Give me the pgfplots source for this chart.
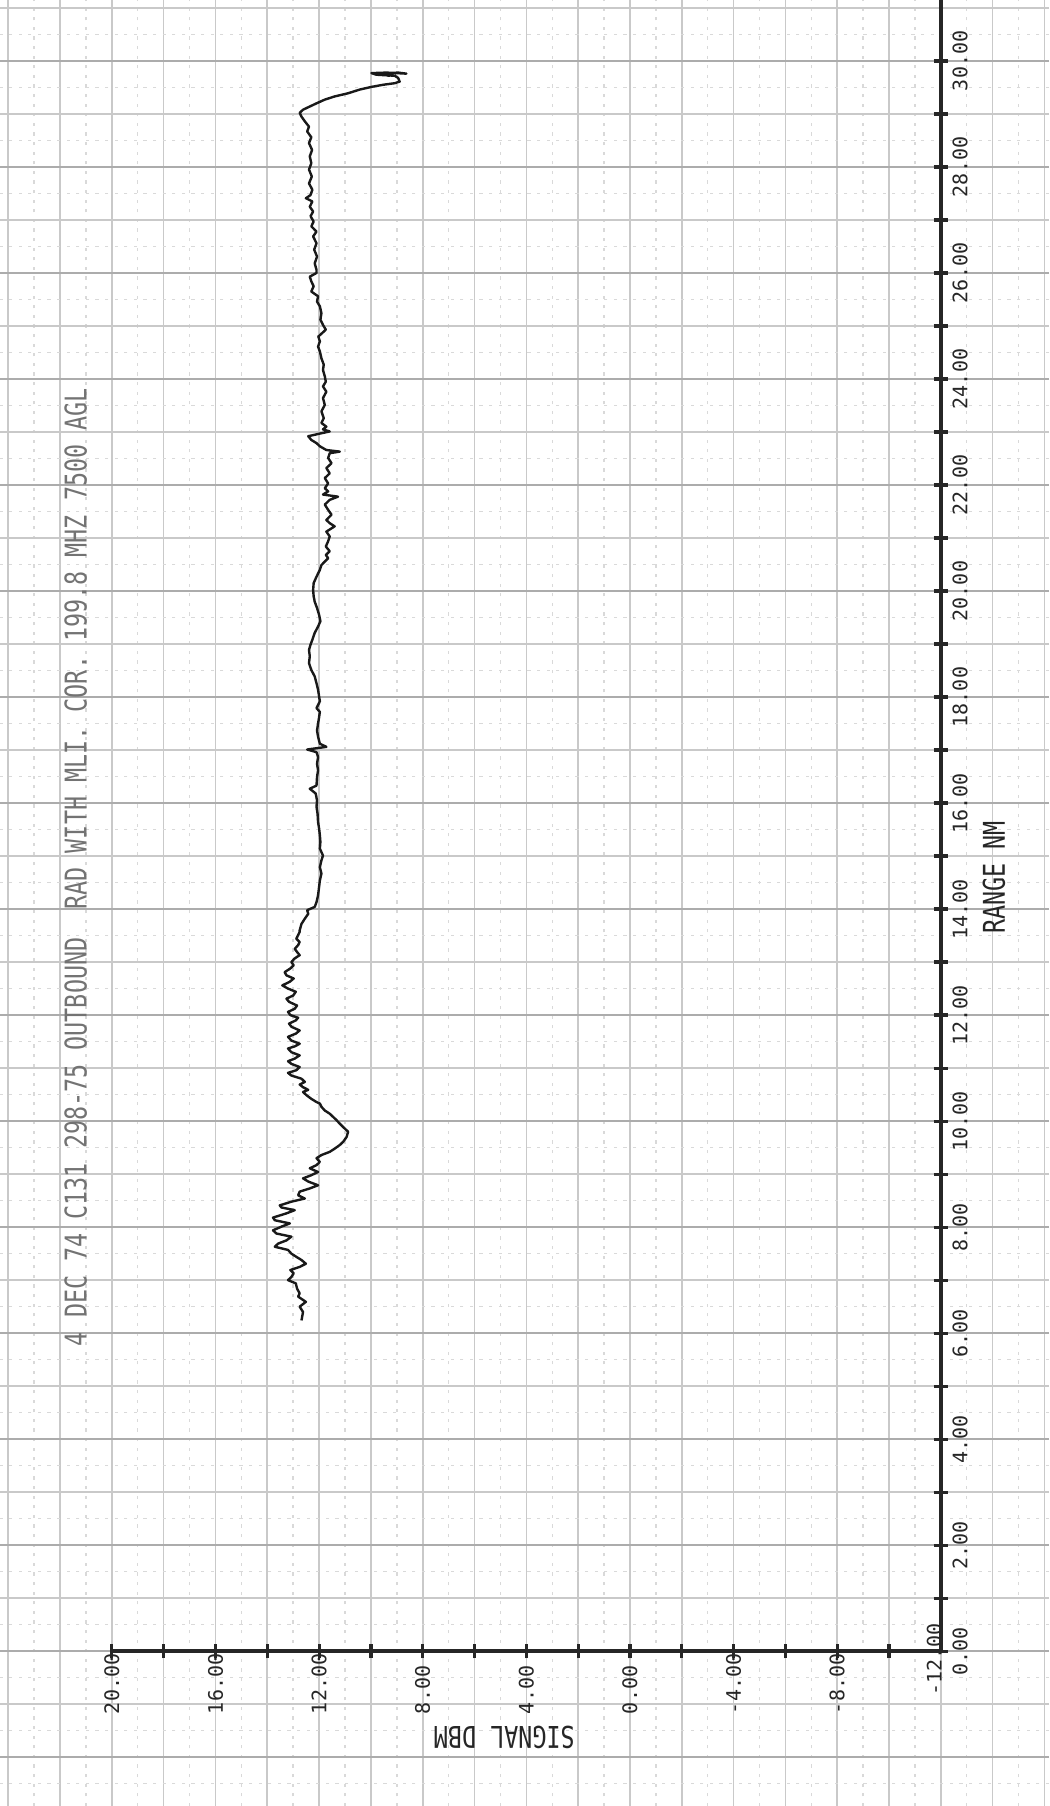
\documentclass[border=0pt]{standalone}
\usepackage{fontspec}
\usepackage{pgfplots}
\pgfplotsset{compat=1.18}
\newfontfamily\plotfont{DejaVu Sans Mono}
\newcommand\tickf{\plotfont\fontsize{5}{6}\selectfont}
\newcommand\titlef{\plotfont\fontsize{7.5}{9}\selectfont}
\begin{document}
\begin{tikzpicture}
\begin{axis}[
  scale only axis, width=262.25pt, height=451.5pt,
  x dir=reverse, xmin=-16.18, xmax=24.32, ymin=-2.92, ymax=31.15,
  axis line style={draw=none},
  xtick={-16,-14,...,24}, ytick={-2,-1,...,31},
  minor xtick={-15,-13,...,23}, minor ytick={-2.5,-1.5,...,30.5},
  xticklabels={}, yticklabels={},
  major tick length=0pt, minor tick length=0pt,
  grid=both,
  major grid style={gray!42, line width=0.4pt},
  minor grid style={gray!30, line width=0.35pt, dash pattern=on 0.8pt off 1.6pt},
  extra y ticks={-2,0,...,30},
  extra y tick labels={},
  extra y tick style={grid=major, major grid style={gray!65, line width=0.5pt}},
]
\draw[line width=0.9pt, black!85] (axis cs:20,0) -- (axis cs:-12,0);
\draw[line width=0.9pt, black!85] (axis cs:-12,0) -- (axis cs:-12,31.15);
\pgfplotsinvokeforeach{0,...,30}{\draw[line width=0.8pt, black!85] ([xshift=-1.8pt]axis cs:-12,#1) -- ([xshift=1.8pt]axis cs:-12,#1);}
\pgfplotsinvokeforeach{20,18,...,-10}{\draw[line width=0.8pt, black!85] ([yshift=-1.8pt]axis cs:#1,0) -- ([yshift=1.8pt]axis cs:#1,0);}
\pgfplotsinvokeforeach{0,2,...,30}{\node[rotate=90, inner sep=0, font=\tickf, black!85] at (axis cs:-12.75,#1) {#1.00};}
\pgfplotsinvokeforeach{20,16,...,-8}{\node[rotate=90, anchor=west, inner sep=0, font=\tickf, black!85] at (axis cs:#1,-1.2) {#1.00};}
\node[rotate=90, inner sep=0, font=\tickf, black!85] at (axis cs:-11.75,-0.15) {-12.00};
\node[rotate=90, anchor=west, inner sep=0, black!55] at (axis cs:21.4,5.74) {\titlef\scalebox{0.78}[1]{4 DEC 74 C131 298-75 OUTBOUND~~RAD WITH MLI. COR. 199.8 MHZ 7500 AGL}};
\node[rotate=180, inner sep=0, black!85] at (axis cs:4.85,-1.63) {\titlef\scalebox{0.78}[1]{SIGNAL DBM}};
\node[rotate=90, inner sep=0, black!85] at (axis cs:-14.05,14.6) {\titlef\scalebox{0.78}[1]{RANGE NM}};
\addplot[black!90, line width=0.6pt, line join=round] coordinates {
(12.68,6.24) (12.62,6.40) (12.75,6.50) (12.51,6.59) (12.81,6.69) (12.75,6.75) (12.85,6.84) (12.90,6.94)
(13.20,7.00) (13.07,7.06) (12.98,7.13) (13.11,7.19) (12.75,7.25) (12.51,7.31) (12.68,7.38) (12.88,7.44)
(13.07,7.50) (13.20,7.57) (13.71,7.63) (13.58,7.69) (13.26,7.75) (13.07,7.82) (13.65,7.88) (13.78,7.94)
(13.45,8.01) (13.13,8.07) (13.71,8.13) (13.78,8.18) (13.26,8.26) (12.94,8.32) (13.45,8.37) (13.52,8.41)
(13.07,8.48) (12.55,8.54) (12.81,8.60) (12.75,8.67) (12.36,8.73) (12.04,8.79) (12.42,8.86) (12.62,8.92)
(12.30,8.98) (12.04,9.04) (12.36,9.11) (12.10,9.17) (11.97,9.23) (12.10,9.30) (11.91,9.36) (11.59,9.42)
(11.40,9.48) (11.20,9.55) (11.07,9.61) (10.94,9.70) (10.88,9.80)
(11.01,9.86) (11.20,9.95) (11.33,10.02) (11.46,10.08) (11.59,10.14) (11.78,10.20) (11.91,10.27) (11.97,10.33)
(12.10,10.36) (12.30,10.42) (12.49,10.49) (12.62,10.55) (12.42,10.59) (12.62,10.64) (12.75,10.69) (12.55,10.74)
(12.68,10.80) (13.07,10.86) (13.20,10.91) (12.88,10.96) (12.75,11.02) (13.07,11.08) (13.20,11.13) (12.94,11.18)
(12.75,11.24) (13.07,11.30) (13.20,11.37) (12.94,11.41) (12.75,11.46) (13.07,11.52) (13.20,11.59) (12.90,11.65)
(12.75,11.71) (13.07,11.78) (13.16,11.84) (12.90,11.90) (12.81,11.95) (13.11,12.00) (13.20,12.06) (12.94,12.12)
(12.85,12.18) (13.16,12.25) (13.26,12.31) (13.00,12.37) (12.90,12.44) (13.20,12.50) (13.42,12.56) (13.13,12.63)
(12.98,12.69) (13.26,12.75) (13.33,12.81) (13.11,12.88) (12.98,12.94) (13.07,13.00) (12.94,13.07) (12.75,13.13)
(12.85,13.19) (12.94,13.25) (12.81,13.32) (12.75,13.38) (12.88,13.44) (12.81,13.51) (12.75,13.57)
(12.75,13.60) (12.68,13.72) (12.55,13.82) (12.42,13.91) (12.46,13.98) (12.17,14.04) (12.10,14.13) (12.04,14.26)
(12.00,14.42) (11.97,14.54) (11.91,14.67) (11.97,14.79) (11.91,14.92) (11.85,15.01) (11.97,15.14) (11.95,15.27)
(11.97,15.39) (12.00,15.52) (12.04,15.64) (12.06,15.80) (12.10,15.93) (12.08,16.05) (12.13,16.18) (12.36,16.27)
(12.10,16.33) (12.08,16.49) (12.04,16.62) (12.08,16.74) (12.04,16.87) (12.10,16.96) (12.46,17.01) (11.72,17.06)
(11.97,17.12) (12.04,17.25) (12.08,17.37) (12.04,17.50) (12.00,17.62) (11.97,17.72)
(12.10,17.79) (11.97,17.92) (12.00,18.01) (12.04,18.14) (12.10,18.26) (12.17,18.39) (12.30,18.51) (12.39,18.64)
(12.36,18.77) (12.39,18.89) (12.33,18.99) (12.26,19.08) (12.17,19.21) (12.04,19.33) (11.95,19.43) (12.00,19.55)
(12.08,19.68) (12.17,19.80) (12.21,19.90) (12.23,20.02) (12.21,20.15) (12.10,20.27) (11.97,20.40) (11.91,20.49)
(11.65,20.62) (11.74,20.68) (11.59,20.75) (11.74,20.84) (11.65,20.94) (11.59,21.03) (11.72,21.12) (11.40,21.22)
(11.59,21.28) (11.72,21.34) (11.52,21.44) (11.65,21.53) (11.78,21.63) (11.59,21.72) (11.27,21.78) (11.85,21.82)
(11.65,21.88)
(11.78,21.94) (11.65,22.03) (11.78,22.13) (11.59,22.22) (11.72,22.32) (11.52,22.41) (11.65,22.51) (11.59,22.60)
(11.20,22.63) (11.72,22.66) (11.97,22.73) (12.10,22.79) (12.30,22.85) (12.42,22.92) (11.97,22.97) (11.59,23.01)
(11.85,23.05) (11.72,23.10) (11.91,23.17) (11.82,23.26) (11.91,23.39) (11.78,23.51) (11.85,23.64) (11.72,23.76)
(11.85,23.86) (11.74,23.95) (11.78,24.05) (11.85,24.17) (11.82,24.27) (11.91,24.39) (11.97,24.52) (12.04,24.61)
(11.97,24.71) (12.03,24.80) (11.74,24.93) (11.85,25.02) (11.95,25.12) (11.91,25.24) (11.97,25.37) (12.08,25.46)
(12.04,25.56) (12.30,25.65) (12.21,25.75) (12.30,25.84) (12.36,25.93) (12.10,26.00)
(12.10,26.06) (12.17,26.18) (12.08,26.31) (12.19,26.44) (12.10,26.56) (12.23,26.69) (12.10,26.78) (12.30,26.88)
(12.21,26.97) (12.33,27.07) (12.23,27.16) (12.36,27.25) (12.26,27.35) (12.51,27.41) (12.33,27.47) (12.26,27.57)
(12.39,27.69) (12.28,27.82) (12.39,27.95) (12.30,28.07) (12.36,28.20) (12.27,28.32) (12.39,28.45) (12.30,28.56)
(12.46,28.67) (12.39,28.76) (12.55,28.86) (12.68,28.95) (12.75,29.02) (12.62,29.08) (12.36,29.14) (12.10,29.20)
(11.78,29.27) (11.40,29.33) (10.88,29.39) (10.43,29.46) (9.98,29.51) (9.53,29.55) (9.08,29.58) (8.89,29.61)
(8.95,29.68) (9.08,29.72) (9.79,29.74) (9.98,29.77) (9.40,29.78) (8.63,29.76) (8.95,29.78) (9.66,29.76)
(9.31,29.72) (9.14,29.74)
};
\end{axis}
\pgfresetboundingbox
\path[use as bounding box] (current axis.south west) rectangle (current axis.north east);
\end{tikzpicture}
\end{document}
